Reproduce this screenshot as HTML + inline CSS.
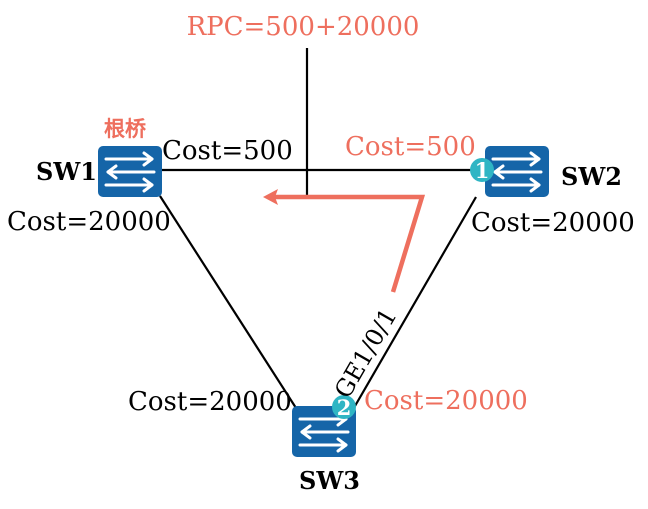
<!DOCTYPE html>
<html><head><meta charset="utf-8"><style>
html,body{margin:0;padding:0;background:#fff;width:648px;height:509px;overflow:hidden}
text{font-family:"DejaVu Serif","Liberation Serif",serif}
</style></head><body>
<svg width="648" height="509" viewBox="0 0 648 509" xmlns="http://www.w3.org/2000/svg">
<defs>
<g id="sw">
<rect x="0" y="0" width="64" height="51" rx="5" fill="#1565a8"/>
<g stroke="#fff" stroke-width="3" fill="none" stroke-linecap="round" stroke-linejoin="round">
<line x1="8" y1="13" x2="54" y2="13"/><polyline points="46,7 54,13 46,19"/>
<line x1="10" y1="26" x2="56" y2="26"/><polyline points="18,20 10,26 18,32"/>
<line x1="8" y1="39" x2="54" y2="39"/><polyline points="46,33 54,39 46,45"/>
</g>
</g>
</defs>
<g stroke="#000" stroke-width="2.2">
<line x1="162" y1="170" x2="485" y2="170"/>
<line x1="160" y1="196" x2="296" y2="408"/>
<line x1="476" y1="197" x2="355" y2="406"/>
<line x1="307" y1="48" x2="307" y2="195"/>
</g>
<polyline points="393,292 422,197 275,197" fill="none" stroke="#ee6f5e" stroke-width="4.5" stroke-linejoin="miter"/>
<polygon points="263,197 278,189 275,197 278,205" fill="#ee6f5e"/>
<use href="#sw" x="98" y="146"/>
<use href="#sw" x="485" y="146"/>
<use href="#sw" x="292" y="406"/>
<circle cx="482" cy="170" r="12" fill="#2fb5c4"/>
<text x="482" y="178" font-size="21" fill="#fff" text-anchor="middle" font-weight="bold">1</text>
<circle cx="344" cy="407" r="12" fill="#2fb5c4"/>
<text x="344" y="415" font-size="21" fill="#fff" text-anchor="middle" font-weight="bold">2</text>
<g font-size="26" fill="#ee6f5e">
<text x="303" y="35" text-anchor="middle">RPC=500+20000</text>
<text x="345" y="155">Cost=500</text>
<text x="364" y="409">Cost=20000</text>
<text x="104" y="136" font-size="21" font-weight="bold" font-family="'Noto Sans CJK SC',sans-serif">根桥</text>
</g>
<g font-size="26" fill="#000">
<text x="162" y="159">Cost=500</text>
<text x="7" y="230">Cost=20000</text>
<text x="471" y="231">Cost=20000</text>
<text x="128" y="410">Cost=20000</text>
<text x="36" y="180" font-size="24" font-weight="bold">SW1</text>
<text x="561" y="185" font-size="24" font-weight="bold">SW2</text>
<text x="299" y="489" font-size="24" font-weight="bold">SW3</text>
<text x="0" y="0" font-size="24" transform="translate(348,400) rotate(-60)">GE1/0/1</text>
</g>
</svg>
</body></html>
